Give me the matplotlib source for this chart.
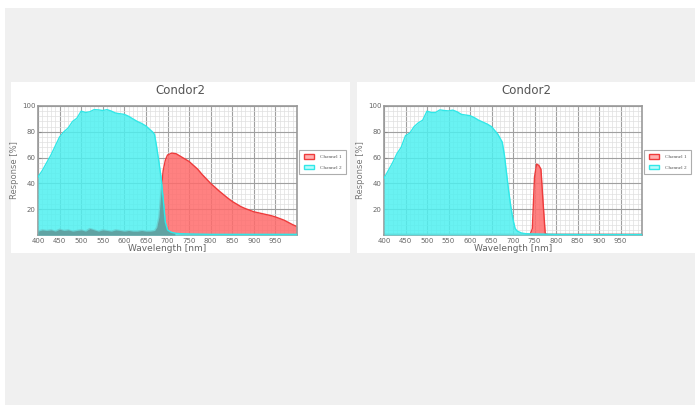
import numpy as np
import matplotlib
matplotlib.use("Agg")
import matplotlib.pyplot as plt
from matplotlib.patches import Rectangle, Patch
from matplotlib.ticker import MultipleLocator

# wavelength grid used for the broad channel 2 curves
wl_c2 = [400, 410, 420, 430, 440, 450, 460, 470, 480, 490,
         500, 510, 520, 530, 540, 550, 560, 570, 580, 590,
         600, 610, 620, 630, 640, 650, 660, 665, 670, 675,
         680, 685, 690, 695, 700, 705, 710, 720, 730, 750,
         800, 900, 1000]
c2_left = [45, 50, 56, 62, 69, 76, 80, 83, 88, 90.5,
           96, 95, 95.5, 97.2, 97, 96.5, 97.2, 96, 94.5, 94,
           93.5, 92, 90, 88, 86.5, 84.5, 81.5, 80, 78, 68,
           57, 45, 28, 10, 4, 2.8, 2, 1.3, 1, 0.8,
           0.5, 0.5, 0.5]
c2_right = [44, 50, 56, 63, 68, 77, 79, 84, 87, 89,
            96, 95, 95, 97, 96.5, 96.2, 96.8, 95.5, 93.5, 93,
            92.5, 91, 89, 87.5, 86, 84, 80, 78, 75, 72,
            62, 48, 34, 22, 12, 5, 3, 1.5, 1, 0.8,
            0.5, 0.4, 0.4]

# channel 1, left sensor (broad NIR response with a low floor in the visible)
wl_c1_left = [400, 410, 420, 430, 440, 450, 460, 470, 480, 490,
              500, 510, 520, 530, 540, 550, 560, 570, 580, 590,
              600, 610, 620, 630, 640, 650, 660, 670, 675, 680,
              685, 690, 695, 700, 710, 720, 730, 740, 750, 760,
              770, 780, 790, 800, 820, 840, 850, 870, 880, 900,
              920, 940, 950, 970, 990, 1000]
c1_left = [3, 4, 3.5, 4, 3, 4.5, 3.5, 4, 3, 3.5,
           4, 3, 5, 4, 3, 4, 3.5, 3, 4, 3.5,
           3, 3.5, 3, 3, 3.5, 3, 3, 3.5, 6, 14,
           34, 50, 58, 62, 63.5, 63, 61, 59, 57, 54,
           51, 47, 43.5, 40, 34, 28.5, 26, 22, 20.5, 18,
           16.5, 15, 14, 11.5, 8, 6.5]

# channel 1, right sensor (narrow band)
wl_c1_right = [400, 740, 745, 750, 755, 760, 765, 770, 775, 780, 1000]
c1_right = [0.5, 0.5, 5, 45, 55, 54, 51, 25, 1, 0.5, 0.5]

x_ticks = [400, 450, 500, 550, 600, 650, 700, 750, 800, 850, 900, 950]
y_ticks = [20, 40, 60, 80, 100]
labels = ["Channel 1", "Channel 2"]

RED_FILL = "#ff6b6b"
RED_LINE = "#ee3b3b"
CYAN_FILL = "#4ff0f0"
CYAN_LINE = "#30e8e8"
OVERLAP = "#5f9d9d"

W, H = 695, 405
fig = plt.figure(figsize=(W / 100, H / 100), dpi=100)
fig.patch.set_facecolor("white")


def box(x0, y0, x1, y1, color):
    # rectangle in pixel coords (y from top)
    fig.patches.append(Rectangle((x0 / W, 1 - y1 / H), (x1 - x0) / W, (y1 - y0) / H,
                                 transform=fig.transFigure, facecolor=color,
                                 edgecolor="none", zorder=-10))


box(5, 8, 695, 405, "#f0f0f0")


def draw_panel(px0, px1, ax_x0, ax_x1, wl1, c1, wl2, c2):
    box(px0, 82, px1, 253, "white")
    ax = fig.add_axes([ax_x0 / W, 1 - 235 / H, (ax_x1 - ax_x0) / W, 129 / H])
    ax.set_xlim(400, 1000)
    ax.set_ylim(0, 100)

    ax.xaxis.set_major_locator(MultipleLocator(50))
    ax.xaxis.set_minor_locator(MultipleLocator(10))
    ax.yaxis.set_major_locator(MultipleLocator(20))
    ax.yaxis.set_minor_locator(MultipleLocator(4))
    ax.grid(True, which="major", color="#a0a0a0", lw=0.8)
    ax.grid(True, which="minor", color="#e0e0e0", lw=0.5)
    ax.set_axisbelow(True)
    ax.set_xticks(x_ticks)
    ax.set_yticks(y_ticks)
    ax.tick_params(which="both", length=0, labelsize=5, labelcolor="#666666", pad=2)
    ax.tick_params(axis="y", which="major", length=2, color="#888888", direction="in")
    for s in ax.spines.values():
        s.set_color("#999999")
        s.set_linewidth(1.2)

    # common grid for the overlap shading
    grid = np.arange(400, 1001, 1)
    a = np.interp(grid, wl1, c1)
    b = np.interp(grid, wl2, c2)

    ax.fill_between(wl1, 0, c1, color=RED_FILL, alpha=0.85, lw=0, zorder=2)
    ax.plot(wl1, c1, color=RED_LINE, lw=1.0, zorder=2.5)
    ax.fill_between(wl2, 0, c2, color=CYAN_FILL, alpha=0.85, lw=0, zorder=3)
    ax.plot(wl2, c2, color=CYAN_LINE, lw=1.0, zorder=4)
    ax.fill_between(grid, 0, np.minimum(a, b), where=np.minimum(a, b) > 1.5,
                    color=OVERLAP, alpha=0.9, lw=0, zorder=3.5)

    ax.set_ylabel("Response [%]", fontsize=6, color="#777777", labelpad=2)
    ax.set_xlabel("Wavelength [nm]", fontsize=6.5, color="#666666", labelpad=0)
    fig.text((px0 + px1) / 2 / W, 1 - 90 / H, "Condor2", ha="center", va="center",
             fontsize=8.5, color="#555555")

    handles = [Patch(facecolor="#ffb0b0", edgecolor=RED_LINE, lw=1.0),
               Patch(facecolor="#b8fafa", edgecolor=CYAN_LINE, lw=1.0)]
    leg = ax.legend(handles, labels, loc="center left",
                    bbox_to_anchor=((ax_x1 + 2) / W, 1 - 162 / H),
                    bbox_transform=fig.transFigure,
                    prop={"family": "Liberation Serif", "size": 3.8},
                    frameon=True, fancybox=False, edgecolor="#999999",
                    handlelength=2.0, handleheight=0.9, borderpad=0.9,
                    labelspacing=1.0, handletextpad=1.0, borderaxespad=0)
    leg.get_frame().set_linewidth(0.8)
    for t in leg.get_texts():
        t.set_color("#555555")
    return ax


draw_panel(11, 350, 38, 297, wl_c1_left, c1_left, wl_c2, c2_left)
draw_panel(357, 695, 384, 642, wl_c1_right, c1_right, wl_c2, c2_right)

fig.savefig("out.png", dpi=100)
